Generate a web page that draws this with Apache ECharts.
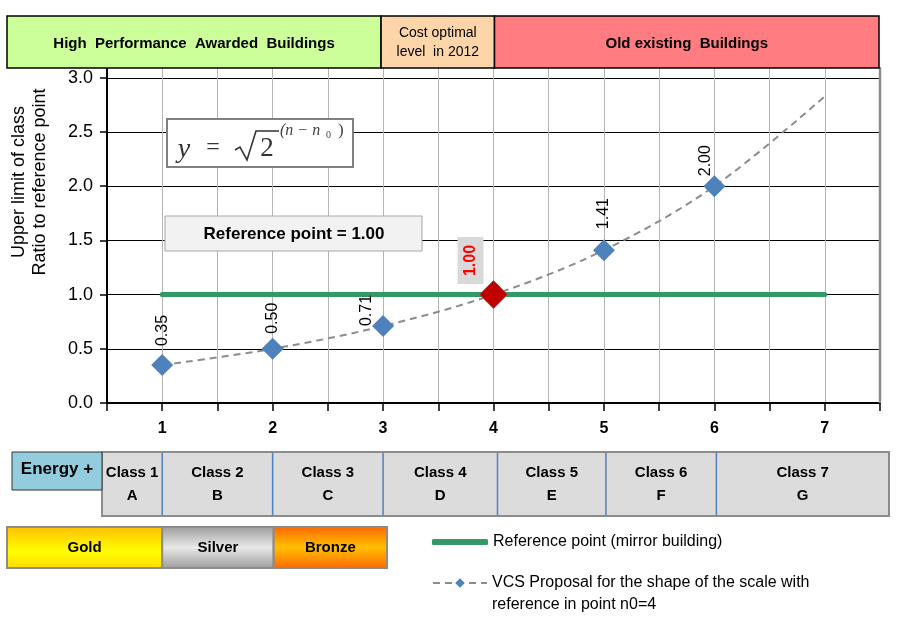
<!DOCTYPE html>
<html>
<head>
<meta charset="utf-8">
<title>VCS scale proposal</title>
<script src="https://cdn.jsdelivr.net/npm/echarts@6/dist/echarts.min.js"></script>
<style>
html, body { margin: 0; padding: 0; background: #fff; }
#main { width: 903px; height: 639px; }
</style>
</head>
<body>
<div id="main"></div>
<script>
// data
var classNo = [1, 2, 3, 4, 5, 6, 7];
var ratio = [0.35, 0.50, 0.71, 1.00, 1.41, 2.00, 2.83];
var refLevel = 1.00;
var refFrom = 1, refTo = 7;
var refClass = 4;
var headerLabels = ['High  Performance  Awarded  Buildings', 'Cost optimal\nlevel  in 2012', 'Old existing  Buildings'];
var classNames = ['Class 1', 'Class 2', 'Class 3', 'Class 4', 'Class 5', 'Class 6', 'Class 7'];
var classLetters = ['A', 'B', 'C', 'D', 'E', 'F', 'G'];
var medalLabels = ['Gold', 'Silver', 'Bronze'];
var seriesNames = ['Reference point (mirror building)', 'VCS Proposal for the shape of the scale with reference in point n0=4'];

var FONT = 'Liberation Sans, Arial, sans-serif';
var NARROW = 'Liberation Sans Narrow, Liberation Sans, Arial, sans-serif';

// label offsets work in the rotated frame: [-dy, dx]
var labelNudge = { 1: [-4, 0], 2: [-19, -16], 4: [2, 0], 5: [-9, -9] };

var chart = echarts.init(document.getElementById('main'));

var vcsData = classNo.map(function (n, i) {
  var item = { value: [n, ratio[i]] };
  if (n === refClass) {
    item.symbolSize = 28;
    item.itemStyle = { color: '#c00000', borderColor: '#4f6fa8', borderWidth: 1 };
    item.label = {
      distance: -3, offset: [-1, -23], color: '#ff0000', fontWeight: 'bold',
      backgroundColor: '#d9d9d9', padding: [5, 8]
    };
  } else if (i === classNo.length - 1) {
    item.symbol = 'none';
    item.label = { show: false };
  } else if (labelNudge[i]) {
    item.label = { offset: labelNudge[i] };
  }
  return item;
});

var option = {
  animation: false,
  textStyle: { fontFamily: FONT },
  grid: { left: 107, right: 23, top: 67, bottom: 236 },
  xAxis: {
    type: 'value', min: 0.5, max: 7.5, interval: 0.5,
    axisLine: { lineStyle: { color: '#000', width: 2 } },
    axisTick: { length: 8, lineStyle: { color: '#000', width: 1.5 } },
    axisLabel: {
      margin: 18, fontSize: 16, fontWeight: 'bold', color: '#000',
      formatter: function (v) { return Number.isInteger(v) ? String(v) : ''; }
    },
    splitLine: { show: true, lineStyle: { color: '#b4b4b4', width: 1 } }
  },
  yAxis: {
    type: 'value', min: 0, max: 3.1, interval: 0.5,
    axisLine: { show: true, lineStyle: { color: '#000', width: 2 } },
    axisTick: { show: true, length: 7, lineStyle: { color: '#000', width: 1.5 } },
    axisLabel: {
      margin: 14, fontSize: 18, color: '#000',
      formatter: function (v) { return Math.abs(v * 2 - Math.round(v * 2)) < 1e-6 ? v.toFixed(1) : ''; }
    },
    splitLine: { lineStyle: { color: '#000', width: 1 } }
  },
  legend: [{
    data: [{ name: seriesNames[0], icon: 'roundRect' }], left: 427, top: 529,
    itemWidth: 56, itemHeight: 6,
    textStyle: { fontSize: 16, color: '#000', fontFamily: FONT }
  }, {
    data: [seriesNames[1]], left: 427, top: 545,
    itemWidth: 54, itemHeight: 12,
    // blank first line keeps the icon level with the first text line
    formatter: function (name) { return ' \n' + name.replace(' with ', ' with\n'); },
    textStyle: { fontSize: 16, color: '#000', fontFamily: FONT, lineHeight: 22 }
  }],
  series: [{
    name: seriesNames[0],
    type: 'line',
    data: [[refFrom, refLevel], [refTo, refLevel]],
    symbol: 'none',
    lineStyle: { color: '#339966', width: 5, cap: 'round' },
    itemStyle: { color: '#339966' },
    z: 3
  }, {
    name: seriesNames[1],
    type: 'line',
    data: vcsData,
    smooth: 0.35,
    symbol: 'diamond',
    symbolSize: 22,
    showAllSymbol: true,
    lineStyle: { color: '#8c8c8c', width: 2, type: [7, 5] },
    itemStyle: { color: '#4f81bd' },
    label: {
      show: true, position: 'top', distance: 8, rotate: 90,
      align: 'left', verticalAlign: 'middle',
      fontSize: 16, color: '#000', fontFamily: FONT,
      formatter: function (p) { return p.value[1].toFixed(2); }
    },
    z: 4
  }]
};
chart.setOption(option);

function px(x, y) { return chart.convertToPixel({ gridIndex: 0 }, [x, y]); }
var X = classNo.map(function (n) { return px(n, 0)[0]; });
var plotBottom = px(0.5, 0)[1];
var plotTop = px(0.5, 3.1)[1];
var plotRight = px(7.5, 0)[0];

var g = [];
function rect(x0, y0, x1, y1, fill, stroke, lw) {
  g.push({ type: 'rect', shape: { x: x0, y: y0, width: x1 - x0, height: y1 - y0 },
    style: { fill: fill, stroke: stroke, lineWidth: lw || 1 }, z: 10 });
}
function text(str, x, y, size, weight, extra) {
  var st = { text: str, x: x, y: y, fontSize: size, fontWeight: weight || 'normal',
    fontFamily: FONT, fill: '#000', align: 'center', verticalAlign: 'middle' };
  for (var k in extra || {}) st[k] = extra[k];
  g.push({ type: 'text', style: st, z: 11 });
}
function vgrad(stops) {
  return new echarts.graphic.LinearGradient(0, 0, 0, 1, stops.map(function (s) {
    return { offset: s[0], color: s[1] };
  }));
}

// right border of the plot
g.push({ type: 'line', shape: { x1: plotRight, y1: plotTop, x2: plotRight, y2: plotBottom },
  style: { stroke: '#8c8c8c', lineWidth: 2.5 }, z: 9 });

// header bands
var hEdges = [7, X[2] - 2, X[3] + 1, 879];
var hFill = ['#ccff99', '#fcd5a8', '#ff7c80'];
for (var i = 0; i < 3; i++) {
  rect(hEdges[i], 16, hEdges[i + 1], 68, hFill[i], '#000', 1.5);
  var cx = (hEdges[i] + hEdges[i + 1]) / 2;
  if (i === 1) text(headerLabels[i], cx, 43, 14, 'normal', { lineHeight: 19 });
  else text(headerLabels[i], cx, 44, 15, 'bold');
}

// y axis name
g.push({ type: 'text', x: 30, y: 182, rotation: Math.PI / 2, z: 11,
  style: { text: 'Upper limit of class\nRatio to reference point', x: 0, y: 0, fontSize: 18,
    fontFamily: FONT, fill: '#000', align: 'center', verticalAlign: 'middle', lineHeight: 21 } });

// formula box
var SERIF = 'Liberation Serif, DejaVu Serif, serif';
rect(167, 119, 353, 167, '#fff', '#808080', 2);
text('y', 184, 150, 28, 'normal', { fontFamily: SERIF, fontStyle: 'italic', fill: '#333' });
text('=', 213, 148, 24, 'normal', { fontFamily: SERIF, fill: '#333' });
g.push({ type: 'polyline', shape: { points: [[235, 150], [240, 147], [247, 160], [256, 131], [279, 131]] },
  style: { stroke: '#333', lineWidth: 1.6, fill: null }, z: 11 });
text('2', 267, 149, 27, 'normal', { fontFamily: SERIF, fill: '#333' });
text('(n \u2212 n', 280, 131, 16, 'normal', { fontFamily: SERIF, fontStyle: 'italic', fill: '#444', align: 'left' });
text('0', 326, 135, 10, 'normal', { fontFamily: SERIF, fill: '#444', align: 'left' });
text(')', 338, 131, 17, 'normal', { fontFamily: SERIF, fill: '#444', align: 'left' });

// reference point box
rect(165, 216, 422, 251, '#f2f2f2', '#a6a6a6', 1);
text('Reference point = 1.00', 294, 234, 17, 'bold');

// class table
var cEdges = [102, X[0], X[1], X[2], X[3] + 4, X[4] + 2, X[5] + 2, 889];
rect(102, 452, 889, 516, '#dcdcdc', '#8c8c8c', 2);
for (i = 1; i < cEdges.length - 1; i++) {
  g.push({ type: 'line', shape: { x1: cEdges[i], y1: 453, x2: cEdges[i], y2: 515 },
    style: { stroke: '#4f81bd', lineWidth: 1.5 }, z: 11 });
}
for (i = 0; i < classNames.length; i++) {
  var mx = (cEdges[i] + cEdges[i + 1]) / 2;
  text(classNames[i], mx, 473, 15, 'bold', { fontFamily: NARROW });
  text(classLetters[i], mx, 496, 15, 'bold', { fontFamily: NARROW });
}
rect(12, 452, 102, 490, '#93cddd', '#333', 1);
text('Energy +', 57, 469, 17, 'bold', { fontFamily: NARROW });

// medal boxes
var mEdges = [7, X[0], X[1] + 1, X[2] + 4];
var mFill = [
  vgrad([[0, '#ffc000'], [0.6, '#ffff00'], [1, '#ffd800']]),
  vgrad([[0, '#9c9c9c'], [0.5, '#e8e8e8'], [1, '#9c9c9c']]),
  vgrad([[0, '#ff6600'], [0.5, '#ffc000'], [1, '#ff6600']])
];
for (i = 0; i < medalLabels.length; i++) {
  rect(mEdges[i], 527, mEdges[i + 1], 568, mFill[i], '#8c8c8c', 2);
  text(medalLabels[i], (mEdges[i] + mEdges[i + 1]) / 2, 548, 15, 'bold', { fontFamily: NARROW });
}

chart.setOption({ graphic: { elements: g } });
</script>
</body>
</html>
